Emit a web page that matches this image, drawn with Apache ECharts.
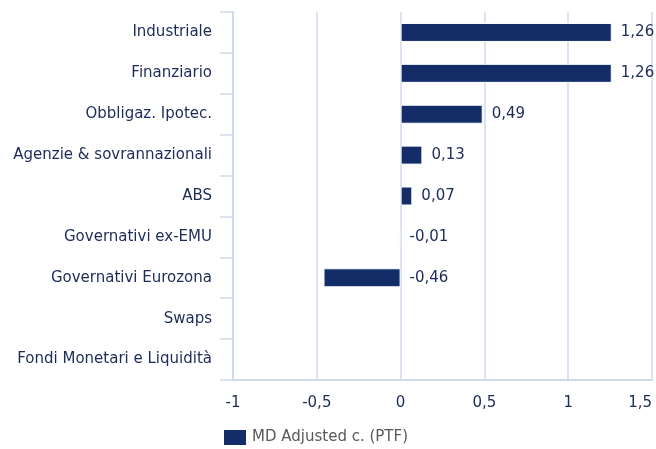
<!DOCTYPE html>
<html>
<head>
<meta charset="utf-8">
<script src="https://cdn.jsdelivr.net/npm/echarts@6/dist/echarts.min.js"></script>
<style>
  html, body { margin: 0; padding: 0; background: #fff; }
  #chart { width: 656px; height: 449px; }
</style>
</head>
<body>
<div id="chart"></div>
<script>
// categories, top to bottom
const categories = ['Industriale', 'Finanziario', 'Obbligaz. Ipotec.', 'Agenzie & sovrannazionali', 'ABS',
  'Governativi ex-EMU', 'Governativi Eurozona', 'Swaps', 'Fondi Monetari e Liquidità'];
const mdValues = [1.26, 1.26, 0.49, 0.13, 0.07, -0.01, -0.46, null, null];
const seriesName = 'MD Adjusted c. (PTF)';

const font = 'DejaVu Sans';
const textColor = '#1c2b58';
const lineColor = '#cfdaeb';

let chart = echarts.init(document.getElementById('chart'));
chart.setOption({
  animation: false,
  textStyle: { fontFamily: font },
  grid: { left: 233, right: 4, top: 12, bottom: 69, containLabel: false },
  legend: {
    data: [seriesName],
    left: 217,
    top: 423,
    itemWidth: 24,
    itemHeight: 17,
    itemGap: 7,
    icon: 'rect',
    textStyle: { color: '#595959', fontSize: 15, fontFamily: font }
  },
  xAxis: {
    type: 'value',
    min: -1,
    max: 1.5,
    interval: 0.5,
    axisLine: { show: true, lineStyle: { color: lineColor, width: 2 } },
    axisTick: { show: false },
    splitLine: { show: true, lineStyle: { color: lineColor, width: 1.5 } },
    axisLabel: {
      color: textColor,
      fontSize: 15,
      fontFamily: font,
      margin: 16,
      alignMaxLabel: 'right',
      formatter: function (v) { return String(v).replace('.', ','); }
    }
  },
  yAxis: {
    type: 'category',
    data: categories,
    inverse: true,
    axisLine: { show: true, onZero: false, lineStyle: { color: lineColor, width: 2 } },
    axisTick: { show: true, length: 13, lineStyle: { color: lineColor, width: 1.5 } },
    axisLabel: { color: textColor, fontSize: 15, fontFamily: font, margin: 21 }
  },
  series: [{
    name: seriesName,
    type: 'bar',
    data: mdValues,
    barWidth: 19,
    itemStyle: { color: '#132d69', borderColor: '#ffffff', borderWidth: 1 },
    label: {
      show: true,
      position: 'right',
      distance: 9,
      color: textColor,
      fontSize: 15,
      fontFamily: font,
      formatter: function (p) { return p.value.toFixed(2).replace('.', ','); }
    }
  }]
});
</script>
</body>
</html>
